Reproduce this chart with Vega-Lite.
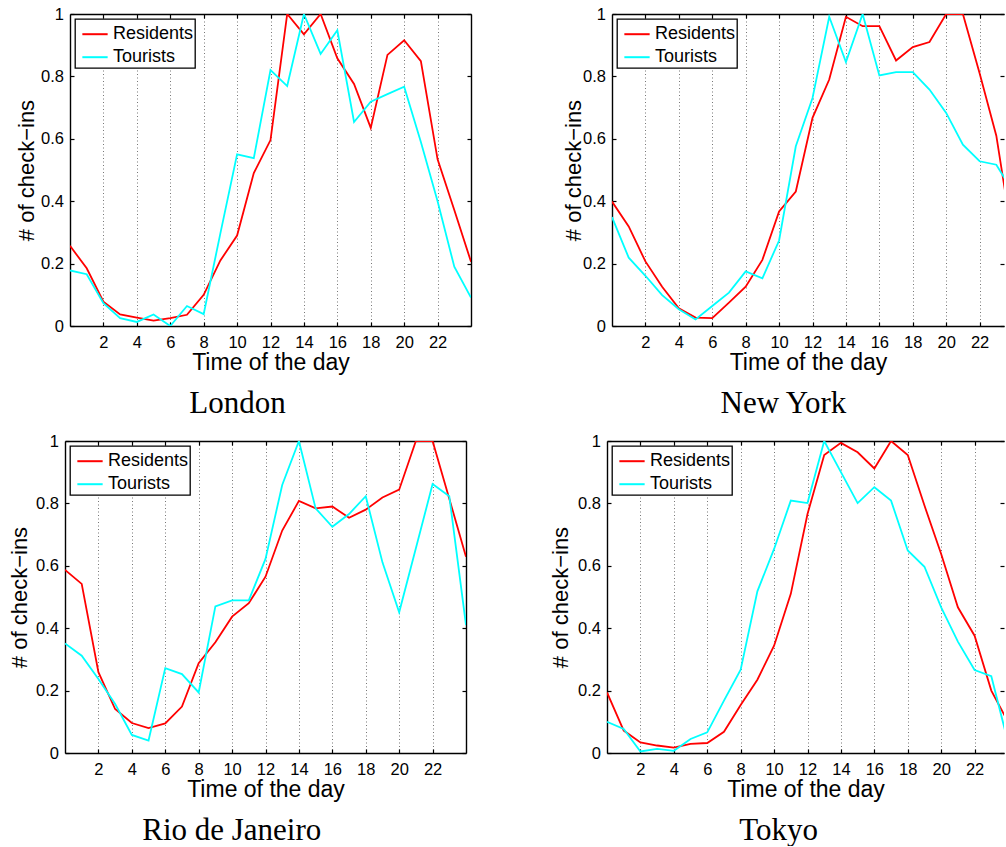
{
"$schema": "https://vega.github.io/schema/vega-lite/v6.json",
"background": "white",
"padding": {"left": 8, "top": 6, "right": 0, "bottom": 0},
"autosize": {"type": "pad"},
"data": {"values": [
{"city":"London","hour":0,"Residents":0.257,"Tourists":0.178},
{"city":"London","hour":1,"Residents":0.185,"Tourists":0.166},
{"city":"London","hour":2,"Residents":0.078,"Tourists":0.073},
{"city":"London","hour":3,"Residents":0.037,"Tourists":0.025},
{"city":"London","hour":4,"Residents":0.027,"Tourists":0.013},
{"city":"London","hour":5,"Residents":0.017,"Tourists":0.037},
{"city":"London","hour":6,"Residents":0.025,"Tourists":0.0},
{"city":"London","hour":7,"Residents":0.036,"Tourists":0.064},
{"city":"London","hour":8,"Residents":0.10,"Tourists":0.038},
{"city":"London","hour":9,"Residents":0.21,"Tourists":0.297},
{"city":"London","hour":10,"Residents":0.29,"Tourists":0.55},
{"city":"London","hour":11,"Residents":0.49,"Tourists":0.538},
{"city":"London","hour":12,"Residents":0.596,"Tourists":0.82},
{"city":"London","hour":13,"Residents":1.0,"Tourists":0.769},
{"city":"London","hour":14,"Residents":0.935,"Tourists":1.0},
{"city":"London","hour":15,"Residents":1.0,"Tourists":0.872},
{"city":"London","hour":16,"Residents":0.858,"Tourists":0.948},
{"city":"London","hour":17,"Residents":0.776,"Tourists":0.654},
{"city":"London","hour":18,"Residents":0.635,"Tourists":0.719},
{"city":"London","hour":19,"Residents":0.869,"Tourists":0.743},
{"city":"London","hour":20,"Residents":0.916,"Tourists":0.767},
{"city":"London","hour":21,"Residents":0.849,"Tourists":0.59},
{"city":"London","hour":22,"Residents":0.534,"Tourists":0.40},
{"city":"London","hour":23,"Residents":0.372,"Tourists":0.19},
{"city":"London","hour":24,"Residents":0.206,"Tourists":0.091},
{"city":"New York","hour":0,"Residents":0.399,"Tourists":0.349},
{"city":"New York","hour":1,"Residents":0.319,"Tourists":0.219},
{"city":"New York","hour":2,"Residents":0.207,"Tourists":0.161},
{"city":"New York","hour":3,"Residents":0.126,"Tourists":0.099},
{"city":"New York","hour":4,"Residents":0.057,"Tourists":0.054},
{"city":"New York","hour":5,"Residents":0.027,"Tourists":0.021},
{"city":"New York","hour":6,"Residents":0.025,"Tourists":0.064},
{"city":"New York","hour":7,"Residents":0.075,"Tourists":0.107},
{"city":"New York","hour":8,"Residents":0.126,"Tourists":0.175},
{"city":"New York","hour":9,"Residents":0.212,"Tourists":0.153},
{"city":"New York","hour":10,"Residents":0.367,"Tourists":0.274},
{"city":"New York","hour":11,"Residents":0.431,"Tourists":0.576},
{"city":"New York","hour":12,"Residents":0.667,"Tourists":0.731},
{"city":"New York","hour":13,"Residents":0.79,"Tourists":0.991},
{"city":"New York","hour":14,"Residents":0.991,"Tourists":0.846},
{"city":"New York","hour":15,"Residents":0.961,"Tourists":1.0},
{"city":"New York","hour":16,"Residents":0.961,"Tourists":0.803},
{"city":"New York","hour":17,"Residents":0.851,"Tourists":0.814},
{"city":"New York","hour":18,"Residents":0.894,"Tourists":0.814},
{"city":"New York","hour":19,"Residents":0.91,"Tourists":0.758},
{"city":"New York","hour":20,"Residents":1.0,"Tourists":0.683},
{"city":"New York","hour":21,"Residents":1.0,"Tourists":0.581},
{"city":"New York","hour":22,"Residents":0.81,"Tourists":0.528},
{"city":"New York","hour":23,"Residents":0.61,"Tourists":0.517},
{"city":"New York","hour":24,"Residents":0.27,"Tourists":0.43},
{"city":"Rio de Janeiro","hour":0,"Residents":0.587,"Tourists":0.351},
{"city":"Rio de Janeiro","hour":1,"Residents":0.542,"Tourists":0.312},
{"city":"Rio de Janeiro","hour":2,"Residents":0.259,"Tourists":0.237},
{"city":"Rio de Janeiro","hour":3,"Residents":0.141,"Tourists":0.157},
{"city":"Rio de Janeiro","hour":4,"Residents":0.096,"Tourists":0.058},
{"city":"Rio de Janeiro","hour":5,"Residents":0.080,"Tourists":0.040},
{"city":"Rio de Janeiro","hour":6,"Residents":0.095,"Tourists":0.272},
{"city":"Rio de Janeiro","hour":7,"Residents":0.149,"Tourists":0.253},
{"city":"Rio de Janeiro","hour":8,"Residents":0.288,"Tourists":0.194},
{"city":"Rio de Janeiro","hour":9,"Residents":0.355,"Tourists":0.470},
{"city":"Rio de Janeiro","hour":10,"Residents":0.437,"Tourists":0.489},
{"city":"Rio de Janeiro","hour":11,"Residents":0.480,"Tourists":0.489},
{"city":"Rio de Janeiro","hour":12,"Residents":0.565,"Tourists":0.622},
{"city":"Rio de Janeiro","hour":13,"Residents":0.713,"Tourists":0.859},
{"city":"Rio de Janeiro","hour":14,"Residents":0.808,"Tourists":1.0},
{"city":"Rio de Janeiro","hour":15,"Residents":0.784,"Tourists":0.784},
{"city":"Rio de Janeiro","hour":16,"Residents":0.790,"Tourists":0.725},
{"city":"Rio de Janeiro","hour":17,"Residents":0.754,"Tourists":0.766},
{"city":"Rio de Janeiro","hour":18,"Residents":0.780,"Tourists":0.823},
{"city":"Rio de Janeiro","hour":19,"Residents":0.819,"Tourists":0.611},
{"city":"Rio de Janeiro","hour":20,"Residents":0.844,"Tourists":0.451},
{"city":"Rio de Janeiro","hour":21,"Residents":1.0,"Tourists":0.656},
{"city":"Rio de Janeiro","hour":22,"Residents":1.0,"Tourists":0.862},
{"city":"Rio de Janeiro","hour":23,"Residents":0.815,"Tourists":0.823},
{"city":"Rio de Janeiro","hour":24,"Residents":0.629,"Tourists":0.410},
{"city":"Tokyo","hour":0,"Residents":0.194,"Tourists":0.100},
{"city":"Tokyo","hour":1,"Residents":0.072,"Tourists":0.077},
{"city":"Tokyo","hour":2,"Residents":0.034,"Tourists":0.005},
{"city":"Tokyo","hour":3,"Residents":0.024,"Tourists":0.013},
{"city":"Tokyo","hour":4,"Residents":0.017,"Tourists":0.007},
{"city":"Tokyo","hour":5,"Residents":0.029,"Tourists":0.045},
{"city":"Tokyo","hour":6,"Residents":0.032,"Tourists":0.066},
{"city":"Tokyo","hour":7,"Residents":0.068,"Tourists":0.168},
{"city":"Tokyo","hour":8,"Residents":0.154,"Tourists":0.267},
{"city":"Tokyo","hour":9,"Residents":0.235,"Tourists":0.518},
{"city":"Tokyo","hour":10,"Residents":0.344,"Tourists":0.654},
{"city":"Tokyo","hour":11,"Residents":0.510,"Tourists":0.809},
{"city":"Tokyo","hour":12,"Residents":0.766,"Tourists":0.801},
{"city":"Tokyo","hour":13,"Residents":0.955,"Tourists":1.0},
{"city":"Tokyo","hour":14,"Residents":0.994,"Tourists":0.900},
{"city":"Tokyo","hour":15,"Residents":0.964,"Tourists":0.801},
{"city":"Tokyo","hour":16,"Residents":0.912,"Tourists":0.852},
{"city":"Tokyo","hour":17,"Residents":1.0,"Tourists":0.809},
{"city":"Tokyo","hour":18,"Residents":0.955,"Tourists":0.649},
{"city":"Tokyo","hour":19,"Residents":0.793,"Tourists":0.597},
{"city":"Tokyo","hour":20,"Residents":0.638,"Tourists":0.467},
{"city":"Tokyo","hour":21,"Residents":0.467,"Tourists":0.357},
{"city":"Tokyo","hour":22,"Residents":0.376,"Tourists":0.266},
{"city":"Tokyo","hour":23,"Residents":0.200,"Tourists":0.246},
{"city":"Tokyo","hour":24,"Residents":0.10,"Tourists":0.035}
]},
"config": {
  "view": {"stroke": null},
  "axis": {"domainColor": "black", "domainWidth": 1.4, "tickColor": "black", "tickWidth": 1.2, "tickSize": -4,
           "labelFont": "Liberation Sans", "labelFontSize": 16.5, "labelColor": "black",
           "titleFont": "Liberation Sans", "titleFontWeight": "normal", "titleColor": "black",
           "gridColor": "#777777", "gridDash": [1, 2.5], "gridWidth": 1, "grid": false,
           "labelFlush": false, "labelOverlap": false, "labelBound": false},
  "legend": {"strokeWidth": 1.3, "title": null, "orient": "top-left", "offset": 5, "padding": 1.2, "strokeColor": "black", "fillColor": "white",
             "symbolType": "stroke", "symbolStrokeWidth": 2, "symbolSize": 640, "symbolOffset": 4.8,
             "labelFont": "Liberation Sans", "labelFontSize": 18, "labelColor": "black", "labelOffset": 4, "rowPadding": -0.6,
             "labelExpr": "datum.label + '\u00a0'"},
  "title": {"font": "Liberation Serif", "fontSize": 31, "fontWeight": "normal", "color": "black"}
},
"spacing": 14,
"bounds": "full",
"resolve": {"legend": {"color": "independent"}},
"vconcat": [
 {"hconcat": [
   {"width": 1, "height": 312, "mark": {"type": "point", "opacity": 0}, "transform": [{"filter": "false"}]},
   {"hconcat": [
     {"width": 401, "height": 312,
      "transform": [{"filter": "datum.city === 'London'"}, {"fold": ["Residents", "Tourists"], "as": ["series", "value"]}],
      "title": {"text": "London", "orient": "bottom", "frame": "bounds", "anchor": "middle", "offset": 14, "dx": -6},
      "resolve": {"axis": {"x": "independent", "y": "independent"}},
      "layer": [
        {"mark": {"type": "line", "strokeWidth": 1.8, "clip": true},
         "encoding": {
           "x": {"field": "hour", "type": "quantitative", "scale": {"domain": [0, 24], "nice": false, "zero": false},
                 "axis": {"orient": "bottom", "values": [2,4,6,8,10,12,14,16,18,20,22], "title": "Time of the day", "titleFontSize": 23, "grid": true, "labelPadding": 12, "titlePadding": 1}},
           "y": {"field": "value", "type": "quantitative", "scale": {"domain": [0, 1], "nice": false},
                 "axis": {"orient": "left", "values": [0,0.2,0.4,0.6,0.8,1], "format": ".1~f", "title": "# of check−ins", "titleFontSize": 22, "labelPadding": 10.5, "titlePadding": 2}},
           "color": {"field": "series", "type": "nominal", "scale": {"domain": ["Residents", "Tourists"], "range": ["#ff0000", "#00ffff"]}}
         }},
        {"mark": {"type": "line", "opacity": 0},
         "encoding": {
           "x": {"field": "hour", "type": "quantitative", "scale": {"domain": [0, 24], "nice": false, "zero": false},
                 "axis": {"orient": "top", "values": [2,4,6,8,10,12,14,16,18,20,22], "labels": false, "title": null}},
           "y": {"field": "value", "type": "quantitative", "scale": {"domain": [0, 1], "nice": false},
                 "axis": {"orient": "right", "values": [0,0.2,0.4,0.6,0.8,1], "labels": false, "title": null}},
           "detail": {"field": "series"}
         }}
      ]},
     {"width": 392, "height": 312,
      "transform": [{"filter": "datum.city === 'New York'"}, {"fold": ["Residents", "Tourists"], "as": ["series", "value"]}],
      "title": {"text": "New York", "orient": "bottom", "frame": "bounds", "anchor": "middle", "offset": 14, "dx": -4.5},
      "resolve": {"axis": {"x": "independent", "y": "independent"}},
      "layer": [
        {"mark": {"type": "line", "strokeWidth": 1.8, "clip": true},
         "encoding": {
           "x": {"field": "hour", "type": "quantitative", "scale": {"domain": [0, 23.46], "nice": false, "zero": false},
                 "axis": {"orient": "bottom", "values": [2,4,6,8,10,12,14,16,18,20,22], "title": "Time of the day", "titleFontSize": 23, "grid": true, "labelPadding": 12, "titlePadding": 1}},
           "y": {"field": "value", "type": "quantitative", "scale": {"domain": [0, 1], "nice": false},
                 "axis": {"orient": "left", "values": [0,0.2,0.4,0.6,0.8,1], "format": ".1~f", "title": "# of check−ins", "titleFontSize": 22, "labelPadding": 10.5, "titlePadding": -3.3}},
           "color": {"field": "series", "type": "nominal", "scale": {"domain": ["Residents", "Tourists"], "range": ["#ff0000", "#00ffff"]}}
         }},
        {"mark": {"type": "line", "opacity": 0},
         "encoding": {
           "x": {"field": "hour", "type": "quantitative", "scale": {"domain": [0, 23.46], "nice": false, "zero": false},
                 "axis": {"orient": "top", "values": [2,4,6,8,10,12,14,16,18,20,22], "labels": false, "title": null}},
           "y": {"field": "value", "type": "quantitative", "scale": {"domain": [0, 1], "nice": false},
                 "axis": {"orient": "right", "values": [0,0.2,0.4,0.6,0.8,1], "labels": false, "title": null, "domain": false}},
           "detail": {"field": "series"}
         }}
      ]}
   ], "spacing": 141, "bounds": "flush", "resolve": {"legend": {"color": "independent"}}}
 ], "spacing": 4, "bounds": "flush", "resolve": {"legend": {"color": "independent"}}},
 {"hconcat": [
     {"width": 401, "height": 312,
      "transform": [{"filter": "datum.city === 'Rio de Janeiro'"}, {"fold": ["Residents", "Tourists"], "as": ["series", "value"]}],
      "title": {"text": "Rio de Janeiro", "orient": "bottom", "frame": "bounds", "anchor": "middle", "offset": 14, "dx": -6},
      "resolve": {"axis": {"x": "independent", "y": "independent"}},
      "layer": [
        {"mark": {"type": "line", "strokeWidth": 1.8, "clip": true},
         "encoding": {
           "x": {"field": "hour", "type": "quantitative", "scale": {"domain": [0, 24], "nice": false, "zero": false},
                 "axis": {"orient": "bottom", "values": [2,4,6,8,10,12,14,16,18,20,22], "title": "Time of the day", "titleFontSize": 23, "grid": true, "labelPadding": 12, "titlePadding": 1}},
           "y": {"field": "value", "type": "quantitative", "scale": {"domain": [0, 1], "nice": false},
                 "axis": {"orient": "left", "values": [0,0.2,0.4,0.6,0.8,1], "format": ".1~f", "title": "# of check−ins", "titleFontSize": 22, "labelPadding": 10.5, "titlePadding": 3.7}},
           "color": {"field": "series", "type": "nominal", "scale": {"domain": ["Residents", "Tourists"], "range": ["#ff0000", "#00ffff"]}}
         }},
        {"mark": {"type": "line", "opacity": 0},
         "encoding": {
           "x": {"field": "hour", "type": "quantitative", "scale": {"domain": [0, 24], "nice": false, "zero": false},
                 "axis": {"orient": "top", "values": [2,4,6,8,10,12,14,16,18,20,22], "labels": false, "title": null}},
           "y": {"field": "value", "type": "quantitative", "scale": {"domain": [0, 1], "nice": false},
                 "axis": {"orient": "right", "values": [0,0.2,0.4,0.6,0.8,1], "labels": false, "title": null}},
           "detail": {"field": "series"}
         }}
      ]},
     {"width": 397, "height": 312,
      "transform": [{"filter": "datum.city === 'Tokyo'"}, {"fold": ["Residents", "Tourists"], "as": ["series", "value"]}],
      "title": {"text": "Tokyo", "orient": "bottom", "frame": "bounds", "anchor": "middle", "offset": 14, "dx": 0},
      "resolve": {"axis": {"x": "independent", "y": "independent"}},
      "layer": [
        {"mark": {"type": "line", "strokeWidth": 1.8, "clip": true},
         "encoding": {
           "x": {"field": "hour", "type": "quantitative", "scale": {"domain": [0, 23.76], "nice": false, "zero": false},
                 "axis": {"orient": "bottom", "values": [2,4,6,8,10,12,14,16,18,20,22], "title": "Time of the day", "titleFontSize": 23, "grid": true, "labelPadding": 12, "titlePadding": 1}},
           "y": {"field": "value", "type": "quantitative", "scale": {"domain": [0, 1], "nice": false},
                 "axis": {"orient": "left", "values": [0,0.2,0.4,0.6,0.8,1], "format": ".1~f", "title": "# of check−ins", "titleFontSize": 22, "labelPadding": 10.5, "titlePadding": 5.5}},
           "color": {"field": "series", "type": "nominal", "scale": {"domain": ["Residents", "Tourists"], "range": ["#ff0000", "#00ffff"]}}
         }},
        {"mark": {"type": "line", "opacity": 0},
         "encoding": {
           "x": {"field": "hour", "type": "quantitative", "scale": {"domain": [0, 23.76], "nice": false, "zero": false},
                 "axis": {"orient": "top", "values": [2,4,6,8,10,12,14,16,18,20,22], "labels": false, "title": null}},
           "y": {"field": "value", "type": "quantitative", "scale": {"domain": [0, 1], "nice": false},
                 "axis": {"orient": "right", "values": [0,0.2,0.4,0.6,0.8,1], "labels": false, "title": null, "domain": false}},
           "detail": {"field": "series"}
         }}
      ]}
 ], "spacing": 141, "bounds": "flush", "resolve": {"legend": {"color": "independent"}}}
]
}
